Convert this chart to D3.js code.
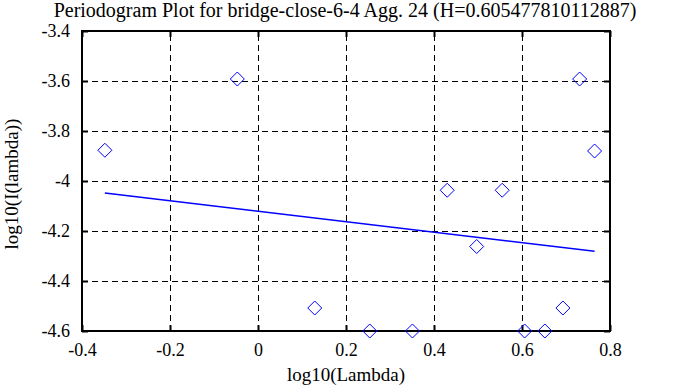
<!DOCTYPE html>
<html>
<head>
<meta charset="utf-8">
<script src="https://cdn.jsdelivr.net/npm/d3@7"></script>
<style>
  html, body { margin: 0; padding: 0; background: #fff; }
  svg { display: block; }
  text { font-family: "Liberation Serif", "Times New Roman", Times, "DejaVu Serif", serif; }
</style>
</head>
<body>
<div id="chart"></div>
<script>
// Periodogram points (log10 of frequency vs log10 of periodogram)
const logLambda = [-0.348, -0.047, 0.129, 0.254, 0.351, 0.430, 0.497, 0.555, 0.606, 0.652, 0.693, 0.731, 0.765];
const logI = [-3.877, -3.592, -4.508, -4.600, -4.600, -4.037, -4.262, -4.037, -4.600, -4.600, -4.508, -3.592, -3.880];

// Fitted regression line end points
const fitX = [-0.348, 0.765];
const fitY = [-4.048, -4.281];

const xTicks = [-0.4, -0.2, 0, 0.2, 0.4, 0.6, 0.8];
const yTicks = [-3.4, -3.6, -3.8, -4, -4.2, -4.4, -4.6];

const titleText = "Periodogram Plot for bridge-close-6-4 Agg. 24 (H=0.605477810112887)";

const width = 688;
const height = 387;
const margin = { top: 31, right: 78, bottom: 56, left: 82 };
const plotW = width - margin.left - margin.right;
const plotH = height - margin.top - margin.bottom;
const serif = "'Liberation Serif', 'Times New Roman', serif";

const svg = d3.select("#chart").append("svg")
    .attr("width", width)
    .attr("height", height)
    .attr("font-family", serif);

const x = d3.scaleLinear().domain([-0.4, 0.8]).range([margin.left, margin.left + plotW]);
const y = d3.scaleLinear().domain([-4.6, -3.4]).range([margin.top + plotH, margin.top]);

const fmt = d => String(+d.toFixed(1));

// grid lines (dashed, crisp)
const grid = svg.append("g").attr("shape-rendering", "crispEdges");
grid.selectAll(".vg")
    .data(xTicks.slice(1, -1))
    .enter().append("line")
    .attr("x1", d => x(d) + 0.5).attr("x2", d => x(d) + 0.5)
    .attr("y1", y(-4.6)).attr("y2", y(-3.4))
    .attr("stroke", "#000").attr("stroke-width", 1)
    .attr("stroke-dasharray", "6,4");
grid.selectAll(".hg")
    .data(yTicks.slice(1, -1))
    .enter().append("line")
    .attr("x1", x(-0.4)).attr("x2", x(0.8))
    .attr("y1", d => y(d) + 0.5).attr("y2", d => y(d) + 0.5)
    .attr("stroke", "#000").attr("stroke-width", 1)
    .attr("stroke-dasharray", "6,4");

// axes with inward ticks
const axisBottom = d3.axisBottom(x).tickValues(xTicks).tickSizeInner(-6).tickSizeOuter(0).tickPadding(12).tickFormat(fmt);
const axisTop = d3.axisTop(x).tickValues(xTicks).tickSizeInner(-6).tickSizeOuter(0).tickFormat("");
const axisLeft = d3.axisLeft(y).tickValues(yTicks).tickSizeInner(-6).tickSizeOuter(0).tickPadding(12).tickFormat(fmt);
const axisRight = d3.axisRight(y).tickValues(yTicks).tickSizeInner(-6).tickSizeOuter(0).tickFormat("");

function styleAxis(g) {
  g.attr("font-family", serif).attr("font-size", 18);
  g.select(".domain").remove();
  g.selectAll(".tick line").attr("stroke", "#000").attr("stroke-width", 2);
  g.selectAll(".tick text").attr("fill", "#000");
}

svg.append("g").attr("transform", `translate(0,${y(-4.6)})`).call(axisBottom).call(styleAxis);
svg.append("g").attr("transform", `translate(0,${y(-3.4)})`).call(axisTop).call(styleAxis);
svg.append("g").attr("transform", `translate(${x(-0.4)},0)`).call(axisLeft).call(styleAxis);
svg.append("g").attr("transform", `translate(${x(0.8)},0)`).call(axisRight).call(styleAxis);

// frame
svg.append("rect")
    .attr("x", x(-0.4)).attr("y", y(-3.4))
    .attr("width", plotW).attr("height", plotH)
    .attr("fill", "none").attr("stroke", "#000").attr("stroke-width", 2);

// regression line
svg.append("line")
    .attr("x1", x(fitX[0])).attr("y1", y(fitY[0]))
    .attr("x2", x(fitX[1])).attr("y2", y(fitY[1]))
    .attr("stroke", "#0000ff").attr("stroke-width", 1.5);

// diamond markers
const pts = logLambda.map((v, i) => ({ x: v, y: logI[i] }));
const s = 7;
svg.append("g").selectAll("path")
    .data(pts)
    .enter().append("path")
    .attr("d", d => {
      const cx = x(d.x), cy = y(d.y);
      return `M${cx},${cy - s}L${cx + s},${cy}L${cx},${cy + s}L${cx - s},${cy}Z`;
    })
    .attr("fill", "none").attr("stroke", "#0000ff").attr("stroke-width", 1);

// title and axis labels
svg.append("text")
    .attr("x", 345).attr("y", 17)
    .attr("text-anchor", "middle")
    .attr("font-size", 20)
    .text(titleText);

svg.append("text")
    .attr("x", x(0.2)).attr("y", 381)
    .attr("text-anchor", "middle")
    .attr("font-size", 19)
    .text("log10(Lambda)");

svg.append("text")
    .attr("transform", `translate(18,184) rotate(-90)`)
    .attr("text-anchor", "middle")
    .attr("font-size", 19)
    .text("log10(I(lambda))");
</script>
</body>
</html>
